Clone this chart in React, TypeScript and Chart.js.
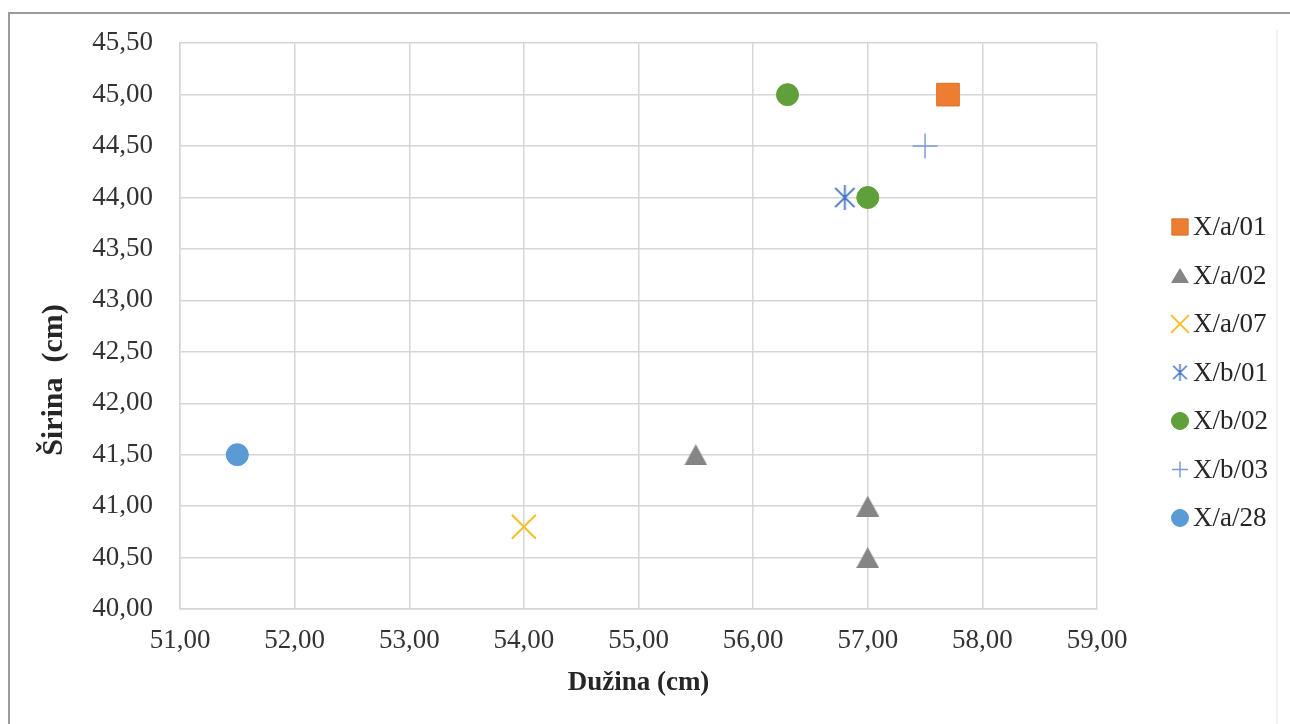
import React, { useEffect, useRef } from 'react';
import { Chart, registerables } from 'chart.js';
import { drawPoint } from 'chart.js/helpers';

Chart.register(...registerables);

// ---- data ----
const seriesLabels = ['X/a/01', 'X/a/02', 'X/a/07', 'X/b/01', 'X/b/02', 'X/b/03', 'X/a/28'];

const xa01Length = [57.7];
const xa01Width = [45.0];
const xa02Length = [55.5, 57.0, 57.0];
const xa02Width = [41.5, 41.0, 40.5];
const xa07Length = [54.0];
const xa07Width = [40.8];
const xb01Length = [56.8];
const xb01Width = [44.0];
const xb02Length = [56.3, 57.0];
const xb02Width = [45.0, 44.0];
const xb03Length = [57.5];
const xb03Width = [44.5];
const xa28Length = [51.5];
const xa28Width = [41.5];

const xTickValues = [51, 52, 53, 54, 55, 56, 57, 58, 59];
const yTickValues = [40, 40.5, 41, 41.5, 42, 42.5, 43, 43.5, 44, 44.5, 45, 45.5];

const xTitle = 'Dužina (cm)';
const yTitle = 'Širina  (cm)';

const FONT = "'Liberation Serif', 'Times New Roman', serif";
const GRID = '#d6d6d6';

const fmt = (v: number) => v.toFixed(2).replace('.', ',');
const pts = (xs: number[], ys: number[]) => xs.map((x, i) => ({ x, y: ys[i] }));

function makeStar(size: number, color: string, lw: number): HTMLCanvasElement {
  const c = document.createElement('canvas');
  c.width = size;
  c.height = size;
  const ctx = c.getContext('2d')!;
  const h = size / 2;
  const d = h * 0.72;
  ctx.strokeStyle = color;
  ctx.lineWidth = lw;
  ctx.beginPath();
  ctx.moveTo(h - d, h - d);
  ctx.lineTo(h + d, h + d);
  ctx.moveTo(h + d, h - d);
  ctx.lineTo(h - d, h + d);
  ctx.moveTo(h, 1);
  ctx.lineTo(h, size - 1);
  ctx.stroke();
  return c;
}

function makeTriangle(w: number, h: number, color: string): HTMLCanvasElement {
  const c = document.createElement('canvas');
  c.width = w;
  c.height = h;
  const ctx = c.getContext('2d')!;
  ctx.fillStyle = color;
  ctx.beginPath();
  ctx.moveTo(w / 2, 0);
  ctx.lineTo(w, h);
  ctx.lineTo(0, h);
  ctx.closePath();
  ctx.fill();
  return c;
}

export default function App() {
  const ref = useRef<HTMLCanvasElement | null>(null);

  useEffect(() => {
    document.body.style.margin = '0';
    const canvas = ref.current;
    if (!canvas) return;

    const starBig = makeStar(27, '#4472C4', 1.8);
    const starSmall = makeStar(19, '#4472C4', 1.5);
    const triBig = makeTriangle(23, 21, '#858585');
    const triSmall = makeTriangle(18, 15, '#858585');

    const legendRadius = [11.5, 0, 12.5, 0, 8.5, 8, 8.5];

    const framePlugin = {
      id: 'frame',
      beforeDraw(chart: any) {
        const ctx = chart.ctx;
        ctx.save();
        ctx.fillStyle = '#ffffff';
        ctx.fillRect(0, 0, chart.width, chart.height);
        ctx.strokeStyle = '#9c9c9c';
        ctx.lineWidth = 2;
        ctx.beginPath();
        ctx.moveTo(9, chart.height);
        ctx.lineTo(9, 13);
        ctx.lineTo(chart.width, 13);
        ctx.stroke();
        ctx.strokeStyle = '#ececec';
        ctx.lineWidth = 1.5;
        ctx.beginPath();
        ctx.moveTo(1277, 30);
        ctx.lineTo(1277, chart.height);
        ctx.stroke();
        ctx.restore();
      },
    };

    const yTitlePlugin = {
      id: 'ytitle',
      afterDraw(chart: any) {
        const ctx = chart.ctx;
        ctx.save();
        ctx.translate(54, 380);
        ctx.rotate(-Math.PI / 2);
        ctx.font = `bold 30px ${FONT}`;
        ctx.fillStyle = '#262626';
        ctx.textAlign = 'center';
        ctx.textBaseline = 'middle';
        ctx.fillText(yTitle, 0, 0);
        ctx.restore();
      },
    };

    const legendPlugin = {
      id: 'customLegend',
      afterDraw(chart: any) {
        const ctx = chart.ctx;
        ctx.save();
        chart.data.datasets.forEach((ds: any, i: number) => {
          const y = 227 + i * 48.5;
          const x = 1180;
          ctx.fillStyle = ds.pointBackgroundColor;
          ctx.strokeStyle = ds.pointBorderColor;
          ctx.lineWidth = ds.pointBorderWidth;
          if (i === 3) {
            ctx.drawImage(starSmall, x - starSmall.width / 2, y - starSmall.height / 2);
          } else if (i === 1) {
            ctx.drawImage(triSmall, x - triSmall.width / 2, y - triSmall.height / 2);
          } else {
            drawPoint(ctx, {
              pointStyle: ds.pointStyle,
              radius: legendRadius[i],
              borderWidth: ds.pointBorderWidth,
              rotation: 0,
            } as any, x, y);
          }
          ctx.fillStyle = '#262626';
          ctx.font = `27px ${FONT}`;
          ctx.textAlign = 'left';
          ctx.textBaseline = 'middle';
          ctx.fillText(ds.label, 1193, y + 1);
        });
        ctx.restore();
      },
    };

    const chart = new Chart(canvas, {
      type: 'scatter',
      data: {
        datasets: [
          {
            label: seriesLabels[0],
            data: pts(xa01Length, xa01Width),
            pointStyle: 'rect',
            pointRadius: 16,
            pointBackgroundColor: '#ED7D31',
            pointBorderColor: '#DC6E26',
            pointBorderWidth: 1,
          },
          {
            label: seriesLabels[1],
            data: pts(xa02Length, xa02Width),
            pointStyle: triBig,
            pointRadius: 12,
            pointBackgroundColor: '#858585',
            pointBorderColor: '#858585',
            pointBorderWidth: 1,
          },
          {
            label: seriesLabels[2],
            data: pts(xa07Length, xa07Width),
            pointStyle: 'crossRot',
            pointRadius: 17,
            pointBackgroundColor: '#FFC000',
            pointBorderColor: '#F5BF2A',
            pointBorderWidth: 2,
          },
          {
            label: seriesLabels[3],
            data: pts(xb01Length, xb01Width),
            pointStyle: starBig,
            pointRadius: 13,
            pointBackgroundColor: '#4472C4',
            pointBorderColor: '#4472C4',
            pointBorderWidth: 2,
          },
          {
            label: seriesLabels[4],
            data: pts(xb02Length, xb02Width),
            pointStyle: 'circle',
            pointRadius: 11,
            pointBackgroundColor: '#5FA03A',
            pointBorderColor: '#5FA03A',
            pointBorderWidth: 1,
          },
          {
            label: seriesLabels[5],
            data: pts(xb03Length, xb03Width),
            pointStyle: 'cross',
            pointRadius: 12.5,
            pointBackgroundColor: '#8FAADC',
            pointBorderColor: '#7E9BD6',
            pointBorderWidth: 1.5,
          },
          {
            label: seriesLabels[6],
            data: pts(xa28Length, xa28Width),
            pointStyle: 'circle',
            pointRadius: 11,
            pointBackgroundColor: '#5B9BD5',
            pointBorderColor: '#5B9BD5',
            pointBorderWidth: 1,
          },
        ] as any,
      },
      options: {
        animation: false,
        responsive: true,
        maintainAspectRatio: false,
        layout: { padding: { left: 10, top: 26, right: 193, bottom: 0 } },
        plugins: {
          legend: { display: false },
          tooltip: { enabled: false },
        },
        scales: {
          x: {
            type: 'linear',
            min: xTickValues[0],
            max: xTickValues[xTickValues.length - 1],
            afterBuildTicks: (scale: any) => {
              scale.ticks = xTickValues.map((v) => ({ value: v }));
            },
            afterFit: (scale: any) => {
              scale.height = 115;
            },
            grid: { color: GRID, lineWidth: 1.5, drawTicks: false },
            border: { color: GRID, width: 1.5 },
            ticks: {
              autoSkip: false,
              maxRotation: 0,
              padding: 16,
              color: '#333333',
              font: { family: FONT, size: 27 },
              callback: (v: any) => fmt(Number(v)),
            },
            title: {
              display: true,
              text: xTitle,
              color: '#262626',
              font: { family: FONT, size: 27, weight: 'bold' },
              padding: { top: 0, bottom: 25 },
            },
          },
          y: {
            type: 'linear',
            min: yTickValues[0],
            max: yTickValues[yTickValues.length - 1],
            afterBuildTicks: (scale: any) => {
              scale.ticks = yTickValues.map((v) => ({ value: v }));
            },
            afterFit: (scale: any) => {
              scale.width = 170;
            },
            grid: { color: GRID, lineWidth: 1.5, drawTicks: false },
            border: { color: GRID, width: 1.5 },
            ticks: {
              autoSkip: false,
              padding: 27,
              color: '#333333',
              font: { family: FONT, size: 27 },
              callback: (v: any) => fmt(Number(v)),
            },
          },
        },
      } as any,
      plugins: [framePlugin, yTitlePlugin, legendPlugin],
    });

    return () => chart.destroy();
  }, []);

  return (
    <div style={{ position: 'relative', width: '1290px', height: '724px' }}>
      <canvas ref={ref} />
    </div>
  );
}
